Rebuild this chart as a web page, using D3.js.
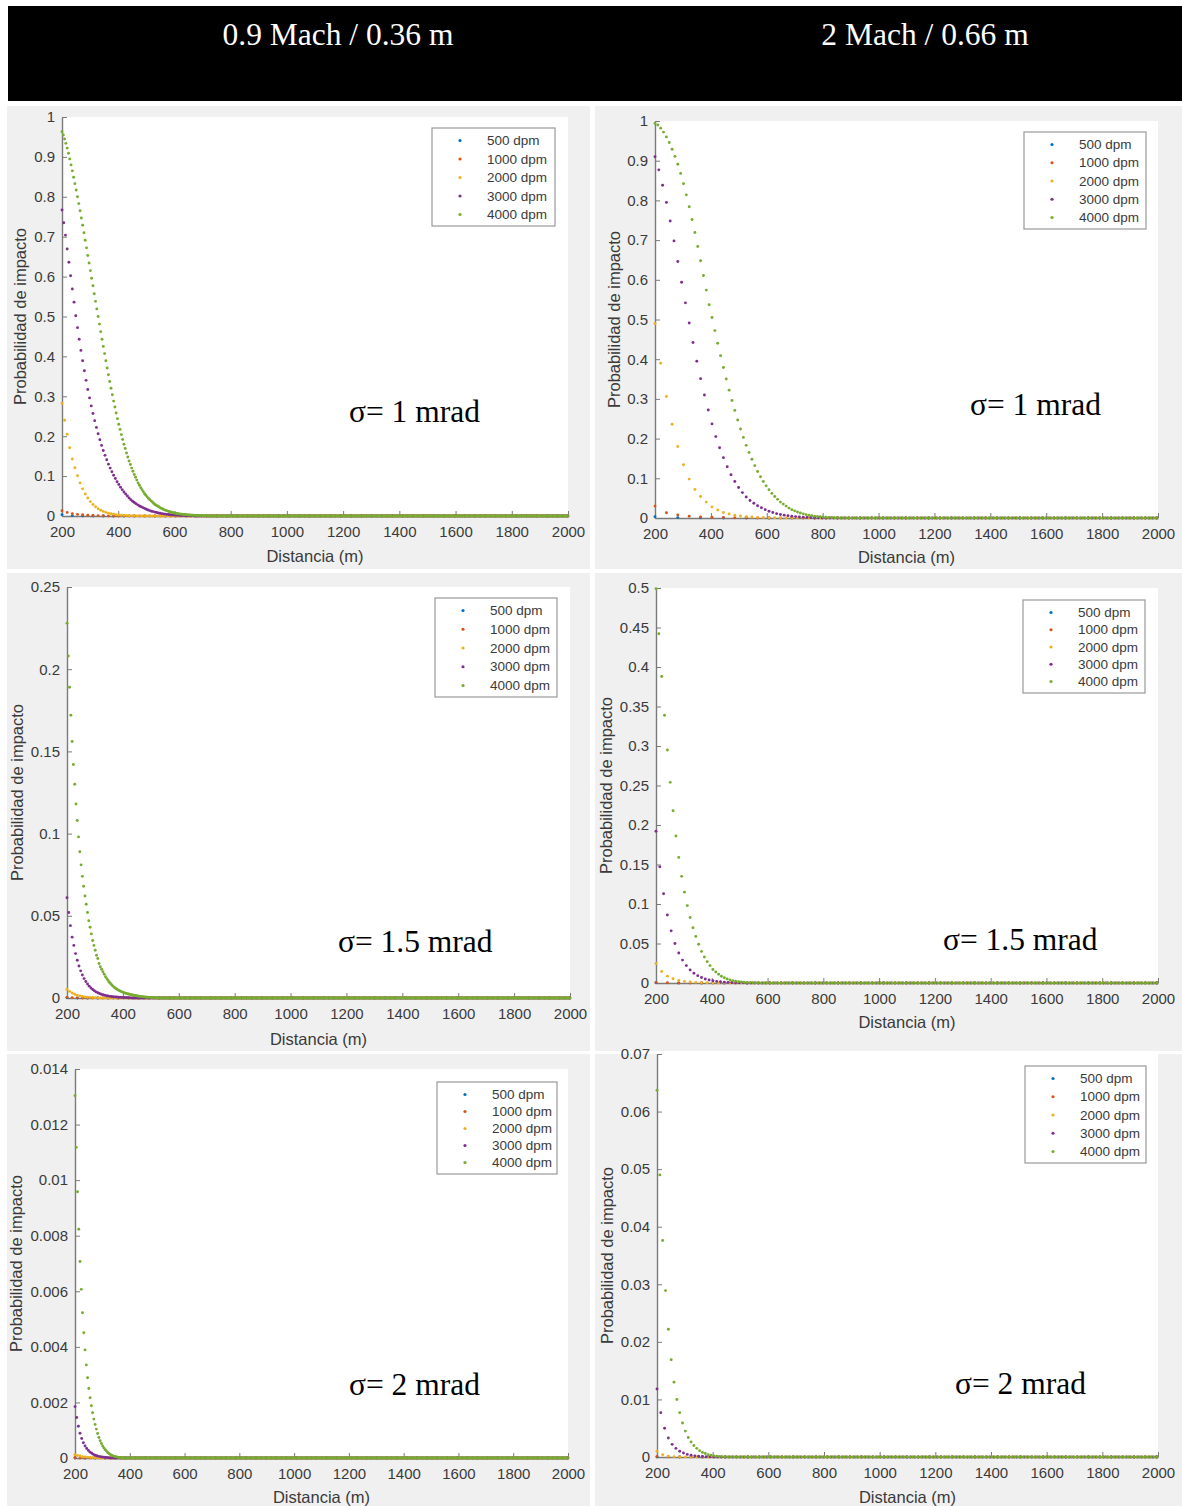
<!DOCTYPE html>
<html>
<head>
<meta charset="utf-8">
<script src="https://cdn.jsdelivr.net/npm/d3@7"></script>
<style>
  body { margin: 0; background: #fff; }
  svg text { font-family: "Liberation Sans", Arial, sans-serif; }
</style>
</head>
<body>
<svg id="chart" width="1182" height="1506"></svg>
<script>
// Serie y colores (MATLAB por defecto)
const seriesNames = ['500 dpm', '1000 dpm', '2000 dpm', '3000 dpm', '4000 dpm'];
const seriesColors = ['#0072BD', '#D95319', '#EDB120', '#7E2F8E', '#77AC30'];
const columnTitles = ['0.9 Mach / 0.36 m', '2 Mach / 0.66 m'];

// distancia entre disparos (m) por cadencia
const stepsM09 = [36.72, 18.36, 9.18, 6.12, 4.59];
const stepsM2 = [81.6, 40.8, 20.4, 13.6, 10.2];

const xTicks = [200, 400, 600, 800, 1000, 1200, 1400, 1600, 1800, 2000];
const yTicks1 = [0, 0.1, 0.2, 0.3, 0.4, 0.5, 0.6, 0.7, 0.8, 0.9, 1];
const yTicks2 = [0, 0.05, 0.1, 0.15, 0.2, 0.25];
const yTicks3 = [0, 0.05, 0.1, 0.15, 0.2, 0.25, 0.3, 0.35, 0.4, 0.45, 0.5];
const yTicks4 = [0, 0.002, 0.004, 0.006, 0.008, 0.01, 0.012, 0.014];
const yTicks5 = [0, 0.01, 0.02, 0.03, 0.04, 0.05, 0.06, 0.07];

// Probabilidad, desde 200 m; lo que sigue esta en 0
// 0.9 Mach, sigma 1 mrad
const p1_500 = [0.003, 0.001, 0.0003];
const p1_1000 = [0.013, 0.009, 0.006, 0.004, 0.003, 0.002, 0.0013, 0.0009, 0.0006];
const p1_2000 = [0.282, 0.240, 0.205, 0.171, 0.143, 0.121, 0.101, 0.083, 0.068, 0.055, 0.045, 0.036, 0.029, 0.023, 0.018, 0.0145, 0.0115, 0.009, 0.007, 0.0055, 0.0043, 0.0033, 0.0025, 0.0019, 0.0015, 0.0011, 0.0008, 0.0006, 0.0005, 0.0004, 0.0003, 0.0002];
const p1_3000 = [0.767, 0.735, 0.704, 0.669, 0.636, 0.602, 0.569, 0.536, 0.502, 0.472, 0.443, 0.415, 0.389, 0.364, 0.340, 0.317, 0.296, 0.276, 0.257, 0.239, 0.222, 0.206, 0.191, 0.177, 0.164, 0.152, 0.141, 0.130, 0.120, 0.111, 0.102, 0.094, 0.086, 0.079, 0.072, 0.066, 0.060, 0.055, 0.050, 0.045, 0.041, 0.037, 0.034, 0.031, 0.028, 0.025, 0.023, 0.021, 0.019, 0.017, 0.015, 0.0135, 0.012, 0.011, 0.0098, 0.0087, 0.0077, 0.0068, 0.006, 0.0053, 0.0047, 0.0041, 0.0036, 0.0032, 0.0028, 0.0024, 0.0021, 0.0018, 0.0016, 0.0014, 0.0012, 0.001, 0.0009, 0.0008, 0.0007, 0.0006, 0.0005];
const p1_4000 = [0.963, 0.955, 0.945, 0.934, 0.922, 0.909, 0.895, 0.880, 0.865, 0.849, 0.833, 0.817, 0.800, 0.783, 0.765, 0.747, 0.729, 0.710, 0.691, 0.672, 0.653, 0.634, 0.615, 0.596, 0.577, 0.557, 0.538, 0.519, 0.500, 0.481, 0.462, 0.443, 0.425, 0.407, 0.389, 0.371, 0.354, 0.337, 0.320, 0.304, 0.288, 0.273, 0.258, 0.244, 0.230, 0.217, 0.204, 0.192, 0.180, 0.169, 0.158, 0.148, 0.138, 0.129, 0.120, 0.112, 0.104, 0.097, 0.090, 0.083, 0.077, 0.071, 0.066, 0.061, 0.056, 0.052, 0.048, 0.044, 0.041, 0.038, 0.035, 0.032, 0.029, 0.027, 0.025, 0.023, 0.021, 0.019, 0.0175, 0.016, 0.0147, 0.0135, 0.0123, 0.0112, 0.0102, 0.0093, 0.0085, 0.0077, 0.007, 0.0064, 0.0058, 0.0053, 0.0048, 0.0044, 0.004, 0.0036, 0.0033, 0.003, 0.0027, 0.0024, 0.0022, 0.002, 0.0018, 0.0016, 0.0014, 0.0013, 0.0012, 0.0011, 0.001, 0.0009, 0.0008, 0.0007, 0.0006, 0.0005];

// 2 Mach, sigma 1 mrad
const p2_500 = [0.003, 0.001, 0.0004];
const p2_1000 = [0.030, 0.0134, 0.0076, 0.0045, 0.0028, 0.0018, 0.0011, 0.0007, 0.0004];
const p2_2000 = [0.49, 0.39, 0.306, 0.236, 0.180, 0.134, 0.098, 0.072, 0.054, 0.040, 0.028, 0.020, 0.014, 0.010, 0.007, 0.005, 0.0035, 0.0025, 0.0017, 0.0012, 0.0008, 0.0005];
const p2_3000 = [0.910, 0.877, 0.838, 0.795, 0.748, 0.698, 0.646, 0.594, 0.542, 0.491, 0.442, 0.395, 0.351, 0.310, 0.272, 0.237, 0.205, 0.177, 0.152, 0.129, 0.109, 0.092, 0.077, 0.064, 0.053, 0.044, 0.037, 0.031, 0.026, 0.021, 0.017, 0.014, 0.011, 0.009, 0.0072, 0.0057, 0.0045, 0.0035, 0.0027, 0.002, 0.0015, 0.0011, 0.0008, 0.0006];
const p2_4000 = [0.994, 0.990, 0.982, 0.972, 0.960, 0.946, 0.929, 0.911, 0.891, 0.868, 0.842, 0.814, 0.784, 0.752, 0.719, 0.684, 0.648, 0.611, 0.574, 0.537, 0.505, 0.472, 0.440, 0.409, 0.379, 0.350, 0.322, 0.296, 0.271, 0.247, 0.224, 0.203, 0.183, 0.165, 0.148, 0.132, 0.117, 0.104, 0.092, 0.081, 0.071, 0.062, 0.054, 0.047, 0.040, 0.035, 0.030, 0.025, 0.021, 0.018, 0.015, 0.0125, 0.0104, 0.0086, 0.0071, 0.0058, 0.0047, 0.0038, 0.003, 0.0024, 0.0019, 0.0015, 0.0011, 0.0008, 0.0006];

// 0.9 Mach, sigma 1.5 mrad
const p3_500 = [0.0001];
const p3_1000 = [0.0004, 0.0002, 0.0001];
const p3_2000 = [0.0053, 0.004, 0.003, 0.0023, 0.0017, 0.0013, 0.001, 0.0007, 0.0005, 0.0004, 0.0003, 0.0002, 0.0001];
const p3_3000 = [0.061, 0.052, 0.044, 0.037, 0.032, 0.027, 0.023, 0.0195, 0.0165, 0.014, 0.0118, 0.010, 0.0085, 0.0072, 0.0061, 0.0052, 0.0044, 0.0037, 0.0032, 0.0027, 0.0023, 0.002, 0.0017, 0.0014, 0.0012, 0.001, 0.0009, 0.0008, 0.0007, 0.0006, 0.0005, 0.0004, 0.0004, 0.0003, 0.0003, 0.0002, 0.0002, 0.0001];
const p3_4000 = [0.228, 0.208, 0.189, 0.172, 0.156, 0.142, 0.130, 0.118, 0.108, 0.098, 0.089, 0.081, 0.074, 0.068, 0.062, 0.057, 0.052, 0.047, 0.043, 0.039, 0.035, 0.032, 0.029, 0.026, 0.024, 0.021, 0.019, 0.0175, 0.016, 0.0145, 0.013, 0.0118, 0.0107, 0.0096, 0.0087, 0.0079, 0.0071, 0.0064, 0.0058, 0.0053, 0.0048, 0.0044, 0.004, 0.0037, 0.0034, 0.0031, 0.0028, 0.0026, 0.0024, 0.0022, 0.002, 0.0018, 0.0017, 0.0015, 0.0014, 0.0012, 0.0011, 0.001, 0.0009, 0.0008, 0.0007, 0.0006, 0.0005, 0.0005, 0.0004, 0.0004, 0.0003, 0.0003, 0.0002, 0.0002, 0.0001];

// 2 Mach, sigma 1.5 mrad
const p4_500 = [0.0001];
const p4_1000 = [0.0008, 0.0003, 0.0001];
const p4_2000 = [0.0246, 0.0145, 0.0087, 0.0053, 0.0033, 0.002, 0.0012, 0.0008, 0.0005, 0.0003, 0.0002];
const p4_3000 = [0.192, 0.147, 0.113, 0.086, 0.066, 0.050, 0.038, 0.029, 0.022, 0.0165, 0.0124, 0.0093, 0.0069, 0.0051, 0.0038, 0.0028, 0.002, 0.0015, 0.0011, 0.0008, 0.0006, 0.0004, 0.0003, 0.0002];
const p4_4000 = [0.499, 0.442, 0.388, 0.339, 0.295, 0.254, 0.218, 0.186, 0.159, 0.135, 0.115, 0.098, 0.083, 0.070, 0.059, 0.049, 0.040, 0.033, 0.027, 0.022, 0.017, 0.014, 0.011, 0.0085, 0.0066, 0.0051, 0.0039, 0.003, 0.0023, 0.0017, 0.0013, 0.001, 0.0007, 0.0005, 0.0004, 0.0003, 0.0002];

// 0.9 Mach, sigma 2 mrad
const p5_500 = [0];
const p5_1000 = [0.00001];
const p5_2000 = [0.00012, 0.00009, 0.00007, 0.00005, 0.00004, 0.00003, 0.00002, 0.00002, 0.00001];
const p5_3000 = [0.00185, 0.00146, 0.00114, 0.00089, 0.0007, 0.00055, 0.00043, 0.00034, 0.00027, 0.00021, 0.00017, 0.00013, 0.0001, 0.00008, 0.00006, 0.00005, 0.00004, 0.00003, 0.00002, 0.00002, 0.00001];
const p5_4000 = [0.01304, 0.01118, 0.00958, 0.00823, 0.00707, 0.00607, 0.00523, 0.00451, 0.00389, 0.00335, 0.00289, 0.0025, 0.00217, 0.00188, 0.00163, 0.0014, 0.00121, 0.00104, 0.00088, 0.00074, 0.00062, 0.00052, 0.00043, 0.00036, 0.0003, 0.00025, 0.0002, 0.00016, 0.00013, 0.0001, 0.00008, 0.00006, 0.00005, 0.00004, 0.00003, 0.00002, 0.00002, 0.00001];

// 2 Mach, sigma 2 mrad
const p6_500 = [0];
const p6_1000 = [0.0001, 0.00002];
const p6_2000 = [0.001, 0.0004, 0.00015, 0.00006, 0.00002];
const p6_3000 = [0.0118, 0.0077, 0.0050, 0.0033, 0.0022, 0.0015, 0.001, 0.0007, 0.00045, 0.0003, 0.0002, 0.00013, 0.00008, 0.00005, 0.00003, 0.00002, 0.00001];
const p6_4000 = [0.0637, 0.049, 0.0376, 0.0289, 0.0222, 0.0169, 0.013, 0.010, 0.0077, 0.0059, 0.0045, 0.0034, 0.0026, 0.002, 0.0015, 0.0011, 0.0008, 0.0006, 0.0004, 0.0003, 0.0002, 0.00015, 0.0001, 0.00007, 0.00005, 0.00003, 0.00002, 0.00001];

// layout de cada panel (pixeles)
const panels = [
  { data: [p1_500, p1_1000, p1_2000, p1_3000, p1_4000], steps: stepsM09, yMax: 1, yTicks: yTicks1,
    box: [62, 568, 117, 516], legend: [432, 128, 123, 98], sigma: 'σ= 1 mrad', sigmaAt: [349, 422], yLabelX: 20, xLabelY: 556 },
  { data: [p2_500, p2_1000, p2_2000, p2_3000, p2_4000], steps: stepsM2, yMax: 1, yTicks: yTicks1,
    box: [655, 1158, 121, 518], legend: [1024, 132, 122, 97], sigma: 'σ= 1 mrad', sigmaAt: [970, 415], yLabelX: 614, xLabelY: 557 },
  { data: [p3_500, p3_1000, p3_2000, p3_3000, p3_4000], steps: stepsM09, yMax: 0.25, yTicks: yTicks2,
    box: [67, 570, 587, 998], legend: [435, 598, 122, 99], sigma: 'σ= 1.5 mrad', sigmaAt: [338, 952], yLabelX: 17, xLabelY: 1039 },
  { data: [p4_500, p4_1000, p4_2000, p4_3000, p4_4000], steps: stepsM2, yMax: 0.5, yTicks: yTicks3,
    box: [656, 1158, 588, 983], legend: [1023, 600, 122, 93], sigma: 'σ= 1.5 mrad', sigmaAt: [943, 950], yLabelX: 606, xLabelY: 1022 },
  { data: [p5_500, p5_1000, p5_2000, p5_3000, p5_4000], steps: stepsM09, yMax: 0.014, yTicks: yTicks4,
    box: [75, 568, 1069, 1458], legend: [437, 1082, 120, 92], sigma: 'σ= 2 mrad', sigmaAt: [349, 1395], yLabelX: 16, xLabelY: 1497 },
  { data: [p6_500, p6_1000, p6_2000, p6_3000, p6_4000], steps: stepsM2, yMax: 0.07, yTicks: yTicks5,
    box: [657, 1158, 1054, 1457], legend: [1025, 1066, 121, 97], sigma: 'σ= 2 mrad', sigmaAt: [955, 1394], yLabelX: 607, xLabelY: 1497 }
];

const svg = d3.select('#chart');
const textColor = '#3a3a3a';
const axisColor = '#7a7a7a';

// fondo: encabezado negro + celdas grises
svg.append('rect').attr('x', 8).attr('y', 6).attr('width', 1174).attr('height', 95).attr('fill', '#000');
const cells = [[7, 106, 583, 463], [595, 106, 587, 463], [7, 573, 583, 478], [595, 573, 587, 478], [7, 1054, 583, 452], [595, 1054, 587, 452]];
cells.forEach(c => svg.append('rect').attr('x', c[0]).attr('y', c[1]).attr('width', c[2]).attr('height', c[3]).attr('fill', '#f0f0f0'));

columnTitles.forEach((t, i) => {
  svg.append('text').attr('x', i === 0 ? 338 : 925).attr('y', 45)
    .attr('text-anchor', 'middle').style('font-family', '"Liberation Serif", "Times New Roman", serif')
    .style('font-size', '31.5px').attr('fill', '#fff').text(t);
});

panels.forEach(p => {
  const [x0, x1, yTop, yBot] = p.box;
  const x = d3.scaleLinear().domain([200, 2000]).range([x0, x1]);
  const y = d3.scaleLinear().domain([0, p.yMax]).range([yBot, yTop]);
  const g = svg.append('g');

  g.append('rect').attr('x', x0).attr('y', yTop).attr('width', x1 - x0).attr('height', yBot - yTop).attr('fill', '#fff');

  const yAxis = g.append('g').attr('transform', `translate(${x0},0)`)
    .call(d3.axisLeft(y).tickValues(p.yTicks).tickFormat(String).tickSizeInner(-5).tickSizeOuter(0).tickPadding(7));
  const xAxis = g.append('g').attr('transform', `translate(0,${yBot})`)
    .call(d3.axisBottom(x).tickValues(xTicks).tickFormat(String).tickSizeInner(-5).tickSizeOuter(0).tickPadding(10));
  [xAxis, yAxis].forEach(a => {
    a.select('.domain').attr('stroke', axisColor).attr('stroke-width', 1.4);
    a.selectAll('.tick line').attr('stroke', axisColor);
    a.selectAll('.tick text').attr('fill', textColor).style('font-size', '15px').style('font-family', '"Liberation Sans", Arial, sans-serif');
  });

  g.append('text').attr('x', (x0 + x1) / 2).attr('y', p.xLabelY + 6).attr('text-anchor', 'middle')
    .style('font-size', '16.5px').attr('fill', textColor).text('Distancia (m)');
  g.append('text').attr('transform', `translate(${p.yLabelX + 6},${(yTop + yBot) / 2}) rotate(-90)`)
    .attr('text-anchor', 'middle').style('font-size', '16.5px').attr('fill', textColor).text('Probabilidad de impacto');

  // puntos: cada disparo desde 200 m hasta 2000 m
  p.data.forEach((vals, s) => {
    const step = p.steps[s];
    const n = Math.floor(1800 / step + 1e-6) + 1;
    const pts = d3.range(n).map(i => ({ d: 200 + i * step, v: i < vals.length ? vals[i] : 0 }));
    g.append('g').selectAll('circle').data(pts).join('circle')
      .attr('cx', d => x(d.d)).attr('cy', d => y(d.v)).attr('r', 1.45)
      .attr('fill', seriesColors[s]);
  });

  // leyenda
  const [lx, ly, lw, lh] = p.legend;
  const lg = g.append('g');
  lg.append('rect').attr('x', lx).attr('y', ly).attr('width', lw).attr('height', lh)
    .attr('fill', '#fff').attr('stroke', '#999').attr('stroke-width', 1.2);
  const rowH = (lh - 24) / 4;
  seriesNames.forEach((name, k) => {
    const ry = ly + 12.5 + k * rowH;
    lg.append('circle').attr('cx', lx + 28).attr('cy', ry).attr('r', 1.6).attr('fill', seriesColors[k]);
    lg.append('text').attr('x', lx + 55).attr('y', ry).attr('dy', '0.35em')
      .style('font-size', '13.5px').attr('fill', textColor).text(name);
  });

  g.append('text').attr('x', p.sigmaAt[0]).attr('y', p.sigmaAt[1])
    .style('font-family', '"Liberation Serif", "Times New Roman", serif').style('font-size', '31.5px')
    .attr('fill', '#000').text(p.sigma);
});
</script>
</body>
</html>
